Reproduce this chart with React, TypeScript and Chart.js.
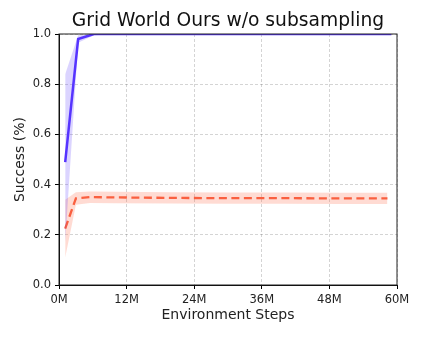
import React, { useEffect, useRef } from "react";
import { Chart, registerables } from "chart.js";

Chart.register(...registerables);

const TITLE = "Grid World Ours w/o subsampling";
const X_LABEL = "Environment Steps";
const Y_LABEL = "Success (%)";

// Environment steps in millions
const blueSteps = [1.1, 3.4, 6.2, 10, 20, 30, 40, 50, 59];
const blueMean = [0.49, 0.98, 1.0, 1.0, 1.0, 1.0, 1.0, 1.0, 1.0];
const blueLow = [0.17, 0.965, 0.995, 1.0, 1.0, 1.0, 1.0, 1.0, 1.0];
const blueHigh = [0.84, 0.995, 1.0, 1.0, 1.0, 1.0, 1.0, 1.0, 1.0];

const redSteps = [1.1, 3.0, 5.5, 10, 20, 30, 40, 50, 58.3];
const redMean = [0.225, 0.345, 0.35, 0.349, 0.347, 0.346, 0.346, 0.345, 0.345];
const redLow = [0.11, 0.32, 0.327, 0.326, 0.325, 0.324, 0.324, 0.323, 0.323];
const redHigh = [0.34, 0.37, 0.373, 0.372, 0.37, 0.369, 0.369, 0.368, 0.368];

const xTicks = [0, 12, 24, 36, 48, 60];

const pts = (xs: number[], ys: number[]) => xs.map((x, i) => ({ x, y: ys[i] }));

const FONT = "'DejaVu Sans', sans-serif";

export default function App() {
  const ref = useRef<HTMLCanvasElement>(null);
  useEffect(() => {
    const canvas = ref.current!;
    const spines = {
      id: "spines",
      afterDatasetsDraw(chart: any) {
        const { ctx, chartArea: a } = chart;
        ctx.save();
        ctx.setLineDash([]);
        ctx.strokeStyle = "#222";
        ctx.lineWidth = 1;
        ctx.strokeRect(a.left, a.top, a.right - a.left, a.bottom - a.top);
        ctx.restore();
      },
    };
    const bg = {
      id: "bg",
      beforeDraw(chart: any) {
        const { ctx } = chart;
        ctx.save();
        ctx.fillStyle = "#fff";
        ctx.fillRect(0, 0, chart.width, chart.height);
        ctx.restore();
      },
    };
    const titlePlugin = {
      id: "centerTitle",
      afterDraw(chart: any) {
        const { ctx, chartArea: a } = chart;
        ctx.save();
        ctx.fillStyle = "#111";
        ctx.font = `18.7px ${FONT}`;
        ctx.textAlign = "center";
        ctx.textBaseline = "middle";
        ctx.fillText(TITLE, (a.left + a.right) / 2, 21);
        ctx.restore();
      },
    };
    const chart = new Chart(canvas, {
      type: "line",
      data: {
        datasets: [
          {
            data: pts(blueSteps, blueHigh),
            borderWidth: 0,
            pointRadius: 0,
            fill: false,
            borderColor: "rgba(0,0,0,0)",
          },
          {
            data: pts(blueSteps, blueLow),
            borderWidth: 0,
            pointRadius: 0,
            fill: "-1",
            borderColor: "rgba(0,0,0,0)",
            backgroundColor: "rgba(90,60,255,0.22)",
          },
          {
            data: pts(redSteps, redHigh),
            borderWidth: 0,
            pointRadius: 0,
            fill: false,
            borderColor: "rgba(0,0,0,0)",
          },
          {
            data: pts(redSteps, redLow),
            borderWidth: 0,
            pointRadius: 0,
            fill: "-1",
            borderColor: "rgba(0,0,0,0)",
            backgroundColor: "rgba(255,110,80,0.25)",
          },
          {
            data: pts(redSteps, redMean),
            borderColor: "#f85a3a",
            borderWidth: 2.3,
            borderDash: [8, 4.5],
            pointRadius: 0,
            fill: false,
          },
          {
            data: pts(blueSteps, blueMean),
            borderColor: "#5533ff",
            borderWidth: 2.5,
            pointRadius: 0,
            fill: false,
          },
        ],
      },
      options: {
        responsive: false,
        animation: false,
        events: [],
        layout: { padding: { left: 0, right: 25, top: 34, bottom: 0 } },
        plugins: {
          legend: { display: false },
          tooltip: { enabled: false },
          title: { display: false },
        },
        scales: {
          x: {
            type: "linear",
            min: 0,
            max: 60,
            afterFit: (s: any) => {
              s.height = 53;
            },
            afterBuildTicks: (s: any) => {
              s.ticks = xTicks.map((v) => ({ value: v }));
            },
            ticks: {
              color: "#222",
              font: { family: FONT, size: 11.5 },
              padding: 4,
              maxRotation: 0,
              callback: (v: any) => `${v}M`,
            },
            grid: {
              color: "rgba(0,0,0,0.17)",
              lineWidth: 1,
              drawTicks: true,
              tickLength: 4,
              tickColor: "#000",
              tickBorderDash: [],
            },
            border: { display: true, color: "#000", width: 1, dash: [3, 2] },
            title: {
              display: true,
              text: X_LABEL,
              color: "#222",
              font: { family: FONT, size: 14 },
              padding: { top: 0, bottom: 14.6 },
            },
          },
          y: {
            min: 0,
            max: 1,
            afterFit: (s: any) => {
              s.width = 59;
            },
            ticks: {
              stepSize: 0.2,
              color: "#222",
              font: { family: FONT, size: 11.5 },
              padding: 4,
              callback: (v: any) => Number(v).toFixed(1),
            },
            grid: {
              color: "rgba(0,0,0,0.17)",
              lineWidth: 1,
              drawTicks: true,
              tickLength: 4,
              tickColor: "#000",
              tickBorderDash: [],
            },
            border: { display: true, color: "#000", width: 1, dash: [3, 2] },
            title: {
              display: true,
              text: Y_LABEL,
              color: "#222",
              font: { family: FONT, size: 14 },
              padding: { top: 11.6, bottom: 0 },
            },
          },
        },
      },
      plugins: [bg, spines, titlePlugin],
    } as any);
    return () => chart.destroy();
  }, []);
  return (
    <div style={{ position: "absolute", left: 0, top: 0, width: 422, height: 338, background: "#fff" }}>
      <canvas ref={ref} width={422} height={338} style={{ display: "block" }} />
    </div>
  );
}
